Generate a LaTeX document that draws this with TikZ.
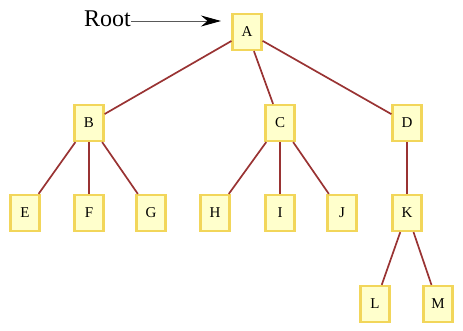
\documentclass[tikz,border=0pt]{standalone}
\usepackage{fontspec}
\setmainfont{Liberation Serif}
\usetikzlibrary{arrows.meta}
\definecolor{boxfill}{HTML}{FFFFCC}
\definecolor{boxline}{HTML}{F2D65A}
\definecolor{edgecol}{HTML}{993333}
\begin{document}
\begin{tikzpicture}[x=1pt,y=-1pt,
  tnode/.style={draw=boxline,fill=boxfill,line width=2.2pt,minimum width=29pt,minimum height=36pt,inner sep=0pt,font=\fontsize{15}{15}\selectfont},
  tedge/.style={draw=edgecol,line width=1.7pt}]
\useasboundingbox (0,0) rectangle (463,330);
\node[tnode] (A) at (247,32) {A};
\node[tnode] (B) at (89,123) {B};
\node[tnode] (C) at (280,123) {C};
\node[tnode] (D) at (407,123) {D};
\node[tnode] (E) at (25,213) {E};
\node[tnode] (F) at (89,213) {F};
\node[tnode] (G) at (151,213) {G};
\node[tnode] (H) at (215,213) {H};
\node[tnode] (I) at (280,213) {I};
\node[tnode] (J) at (342,213) {J};
\node[tnode] (K) at (407,213) {K};
\node[tnode] (L) at (375,304) {L};
\node[tnode] (M) at (438,304) {M};
\node[font=\fontsize{24}{24}\selectfont,inner sep=0pt,anchor=east] (root) at (131,19) {Root};
\coordinate (rootend) at (221,21);
\draw[gray!70!black,line width=0.9pt,-{Stealth[length=20pt,width=11pt,black]}] (root.east) ++(0,2) -- (rootend);
\foreach \a/\b in {A/B,A/C,A/D,B/E,B/F,B/G,C/H,C/I,C/J,D/K,K/L,K/M}
  \draw[tedge] (\a) -- (\b);
\end{tikzpicture}
\end{document}
